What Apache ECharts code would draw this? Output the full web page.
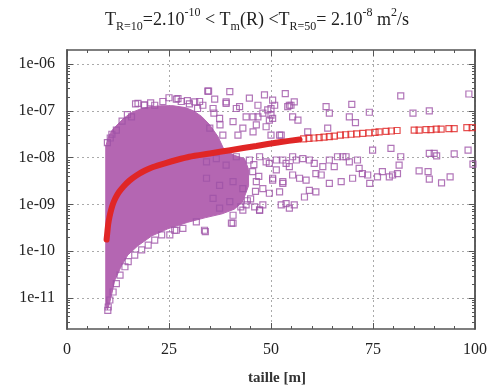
<!DOCTYPE html>
<html>
<head>
<meta charset="utf-8">
<script src="https://cdn.jsdelivr.net/npm/echarts@6/dist/echarts.min.js"></script>
<style>
html,body{margin:0;padding:0;background:#fff;}
#c{width:490px;height:387px;}
</style>
</head>
<body>
<div id="c"></div>
<script>
// ---- data (x = taille [m], y = log10(T) ) ----
var xTicks = [0, 25, 50, 75, 100];
var yTickValues = [-11, -10, -9, -8, -7, -6];
var yTickLabels = ['1e-11', '1e-10', '1e-09', '1e-08', '1e-07', '1e-06'];

// outline of the dense (solid) part of the purple cloud
var cloudOutline = [
  [9.5,-7.75],[10.2,-7.55],[11.0,-7.42],[12.5,-7.28],[14.0,-7.15],[16.0,-7.03],[18.0,-6.96],
  [20.0,-6.92],[23.0,-6.89],[26.0,-6.89],[29.0,-6.93],[31.0,-7.0],[33.0,-7.12],[35.0,-7.3],
  [37.0,-7.55],[38.5,-7.83],[41.0,-7.95],[43.5,-8.02],[44.5,-8.25],[44.5,-8.6],[43.0,-8.95],
  [41.0,-9.1],[38.0,-9.2],[34.0,-9.28],[29.6,-9.38],[24.7,-9.52],[20.8,-9.67],[17.4,-9.88],
  [14.9,-10.08],[13.4,-10.3],[11.7,-10.62],[11.0,-10.9],[10.4,-11.12],[9.9,-11.25],[9.5,-11.15]
];

// individual purple squares
var purplePoints = [
  [48.4,-6.66],[53.5,-6.63],[50.4,-6.77],[50.9,-6.88],[50.0,-6.95],[48.0,-7.05],[46.8,-7.13],[45.6,-7.13],
  [50.0,-7.09],[49.6,-7.20],[46.4,-7.30],[48.8,-7.34],[54.9,-6.88],[55.7,-6.81],[54.1,-6.91],[55.3,-7.13],
  [56.6,-7.20],[59.0,-7.45],[63.5,-6.91],[64.3,-7.05],[69.2,-7.13],[70.7,-7.25],[69.8,-6.86],[74.1,-7.03],
  [81.8,-6.68],[84.8,-7.05],[88.8,-7.00],[98.5,-6.64],[52.5,-7.52],[63.9,-7.37],[74.9,-7.84],[79.4,-7.80],
  [81.8,-7.98],[81.4,-8.16],[88.8,-7.91],[90.0,-7.91],[90.6,-7.96],[94.9,-7.92],[98.3,-7.84],[99.5,-8.14],
  [86.3,-8.28],[88.5,-8.30],[88.8,-8.46],[91.8,-8.54],[93.9,-8.41],[79.8,-8.37],[81.0,-8.34],[79.0,-8.41],
  [77.3,-8.30],[76.1,-8.41],[74.2,-8.55],[73.7,-8.37],[72.4,-8.34],[71.6,-8.23],[71.2,-8.05],[68.4,-7.98],
  [67.6,-7.98],[66.3,-7.98],[69.2,-8.09],[70.0,-8.44],[67.2,-8.51],[64.3,-8.55],[62.3,-8.37],[62.7,-8.19],
  [61.0,-8.73],[58.2,-8.84],[55.7,-9.01],[53.7,-8.98],[54.5,-9.08],[48.0,-9.01],[47.2,-9.12],[46.0,-9.05],
  [59.4,-8.05],[60.6,-8.12],[57.8,-8.02],[56.2,-8.05],[54.5,-8.19],[52.9,-8.05],[51.3,-8.26],[49.6,-8.12],
  [58.6,-8.48],[57.0,-8.44],[55.3,-8.37],[52.9,-8.55],[50.4,-8.48],[52.1,-8.73],[49.6,-8.76],[61.0,-8.34],
  [65.5,-8.19],[64.3,-8.05],[59.4,-8.70],
  [34.5,-6.58],[39.0,-6.81],[41.5,-6.95],[43.9,-7.13],[49.2,-6.98],[50.4,-7.16],[54.5,-6.88],[35.8,-6.95],
  [37.4,-7.16],[40.7,-7.23],[43.1,-7.37],[45.6,-7.45],[35.0,-7.37],[38.2,-7.52],[41.9,-7.52],[50.0,-7.52],
  [52.1,-7.52],[33.3,-6.88],[39.9,-6.59],[44.7,-6.73],[46.8,-6.88],
  [34.2,-8.09],[36.6,-8.02],[39.0,-8.16],[41.5,-7.98],[44.7,-8.05],[47.2,-7.98],[48.8,-8.09],[51.3,-8.05],
  [53.7,-8.12],[55.3,-7.98],[34.2,-8.44],[37.4,-8.59],[40.7,-8.51],[43.1,-8.66],[46.4,-8.51],[48.0,-8.66],
  [50.4,-8.44],[52.9,-8.51],[35.8,-8.87],[39.9,-8.94],[43.9,-9.01],[47.2,-9.12],[37.4,-9.08],[43.1,-9.12],
  [40.7,-9.23],[40.3,-9.40],[33.7,-9.55],[52.5,-9.01],
  [45.5,-8.30],[46.2,-8.72],[45.0,-8.88],[47.0,-8.40],[45.8,-8.15],[44.2,-8.92],[42.6,-9.05],
  [28.4,-9.51],[33.9,-9.58],[40.7,-9.40],[31.7,-9.37],[26.4,-9.55],[25.2,-9.65],[34.7,-6.58],[17.4,-6.84],
  [21.5,-6.88],[26.8,-6.75],[31.3,-6.81],[36.2,-6.75],[39.0,-6.84],[42.3,-6.91],[15.8,-7.13],[12.1,-7.41],
  [10.1,-11.19],[10.5,-11.04],[11.3,-10.87],[12.1,-10.69],[13.0,-10.51],[14.2,-10.33],[15.0,-10.22],
  [16.6,-10.08],[18.3,-9.97],[19.9,-9.87],[21.5,-9.76],[23.2,-9.65],[26.8,-9.55],[10.0,-11.26],
  [13.5,-7.22],[19.0,-6.88],[23.5,-6.80],[25.0,-6.72],[28.0,-6.80],[30.0,-6.85],[32.0,-6.95],[11.0,-7.50],
  [16.8,-6.85],[18.9,-6.87],[20.5,-6.83],[27.2,-6.74],[29.5,-6.78],[32.5,-6.80],
  [9.9,-7.68],[10.6,-7.58],[14.8,-7.08],[36.0,-7.05],[37.5,-7.30]
];

// red model curve T_m(R): dense part drawn as a thick line
var redCurve = [
  [9.7,-9.75],[9.9,-9.58],[10.1,-9.42],[10.4,-9.27],[10.8,-9.12],[11.3,-8.98],[11.9,-8.86],[12.7,-8.74],
  [13.8,-8.62],[15.3,-8.49],[17.0,-8.38],[19.0,-8.28],[21.1,-8.20],[24.0,-8.12],[26.8,-8.05],[30.0,-7.98],
  [35.0,-7.91],[40.0,-7.84],[46.4,-7.75],[52.0,-7.67],[57.0,-7.61]
];
// red model squares, sparse part
var redPoints = [
  [58.0,-7.60],[59.3,-7.59],[60.5,-7.58],[61.8,-7.57],[63.0,-7.56],[64.3,-7.55],[65.5,-7.54],[67.0,-7.52],
  [68.3,-7.51],[69.6,-7.50],[71.0,-7.49],[72.5,-7.48],[74.0,-7.47],[75.5,-7.46],[76.5,-7.45],[78.2,-7.44],
  [79.5,-7.43],[80.9,-7.42],[85.1,-7.41],[86.3,-7.41],[88.0,-7.40],[89.2,-7.40],[90.5,-7.39],[91.7,-7.39],
  [93.6,-7.38],[94.9,-7.38],[98.0,-7.36],[99.3,-7.36]
];

// ---- chart ----
var yMin = -11.66, yMax = -5.70;
var serif = 'Liberation Serif';
var frameColor = '#555';
var purple = '#b466b2';
var purpleEdge = '#9e52a6';
var red = '#e02626';

var yMinor = [];
for (var d = -12; d <= -6; d++) {
  for (var k = 2; k <= 9; k++) {
    var v = d + Math.log10(k);
    if (v > yMin && v < yMax) yMinor.push(v);
  }
}

function yAxisDef(pos, minor, labels) {
  return {
    type: 'value', position: pos, min: yMin, max: yMax,
    axisLine: {show: true, lineStyle: {color: frameColor, width: 1.5}},
    axisTick: {show: true, inside: true, length: minor ? 3 : 6,
      customValues: minor ? yMinor : yTickValues,
      lineStyle: {color: frameColor, width: 1}},
    axisLabel: {show: labels, customValues: yTickValues, margin: 12,
      fontFamily: serif, fontSize: 16, color: '#222',
      formatter: function (v) {
        var i = yTickValues.indexOf(Math.round(v));
        return i >= 0 ? yTickLabels[i] : '';
      }},
    splitLine: {show: labels, lineStyle: {color: '#aaa', width: 1, type: [2, 3]}}
  };
}

function xAxisDef(pos, labels) {
  return {
    type: 'value', position: pos, min: 0, max: 100, interval: 25,
    axisLine: {show: true, onZero: false, lineStyle: {color: frameColor, width: 1.5}},
    axisTick: {show: true, inside: true, length: 6, lineStyle: {color: frameColor}},
    minorTick: {show: true, splitNumber: 5, length: 3, lineStyle: {color: frameColor}},
    axisLabel: {show: labels, margin: 13, fontFamily: serif, fontSize: 16, color: '#222',
      formatter: function (v) { return xTicks.indexOf(v) >= 0 ? String(v) : ''; }},
    splitLine: {show: labels, lineStyle: {color: '#aaa', width: 1, type: [2, 3]}}
  };
}

var chart = echarts.init(document.getElementById('c'), null, {renderer: 'canvas'});
chart.setOption({
  animation: false,
  backgroundColor: '#fff',
  title: [{
    left: 100, top: 2,
    text: '{m|T}{sub|R=10}{m|=2.10}{sup|-10}{m| < T}{sub|m}{m|(R) <T}{sub|R=50}{m|= 2.10}{sup|-8}{m| m}{sup|2}{m|/s}',
    textStyle: {
      fontWeight: 'normal',
      rich: {
        m: {fontFamily: serif, fontSize: 18, fontWeight: 'normal', color: '#222', lineHeight: 26},
        sub: {fontFamily: serif, fontSize: 12, fontWeight: 'normal', color: '#222', lineHeight: 12, verticalAlign: 'bottom'},
        sup: {fontFamily: serif, fontSize: 12, fontWeight: 'normal', color: '#222', lineHeight: 12, verticalAlign: 'top'}
      }
    }
  }, {
    left: 272, top: 366, textAlign: 'center',
    text: 'taille [m]',
    textStyle: {fontFamily: serif, fontSize: 15, fontWeight: 'bold', color: '#333'}
  }],
  grid: {left: 67, right: 14, top: 50, bottom: 58},
  xAxis: [xAxisDef('bottom', true), xAxisDef('top', false)],
  yAxis: [yAxisDef('left', false, true), yAxisDef('left', true, false),
          yAxisDef('right', false, false), yAxisDef('right', true, false)],
  series: [
    {
      type: 'custom', coordinateSystem: 'cartesian2d', xAxisIndex: 0, yAxisIndex: 0,
      data: [[cloudOutline[0][0], cloudOutline[0][1]]],
      renderItem: function (params, api) {
        var pts = cloudOutline.map(function (p) { return api.coord(p); });
        return {type: 'polygon', shape: {points: pts}, style: {fill: purple, stroke: purple, lineWidth: 1}};
      },
      silent: true, z: 1
    },
    {
      type: 'scatter', xAxisIndex: 0, yAxisIndex: 0, data: purplePoints,
      symbol: 'rect', symbolSize: 6,
      itemStyle: {color: 'rgba(0,0,0,0)', borderColor: purpleEdge, borderWidth: 1.2},
      silent: true, z: 2
    },
    {
      type: 'line', xAxisIndex: 0, yAxisIndex: 0, data: redCurve,
      showSymbol: false, symbol: 'none', smooth: 0.2,
      lineStyle: {color: red, width: 6, cap: 'round'},
      silent: true, z: 3
    },
    {
      type: 'scatter', xAxisIndex: 0, yAxisIndex: 0, data: redPoints,
      symbol: 'rect', symbolSize: 6,
      itemStyle: {color: 'rgba(0,0,0,0)', borderColor: red, borderWidth: 1.2},
      silent: true, z: 4
    }
  ]
});
</script>
</body>
</html>
